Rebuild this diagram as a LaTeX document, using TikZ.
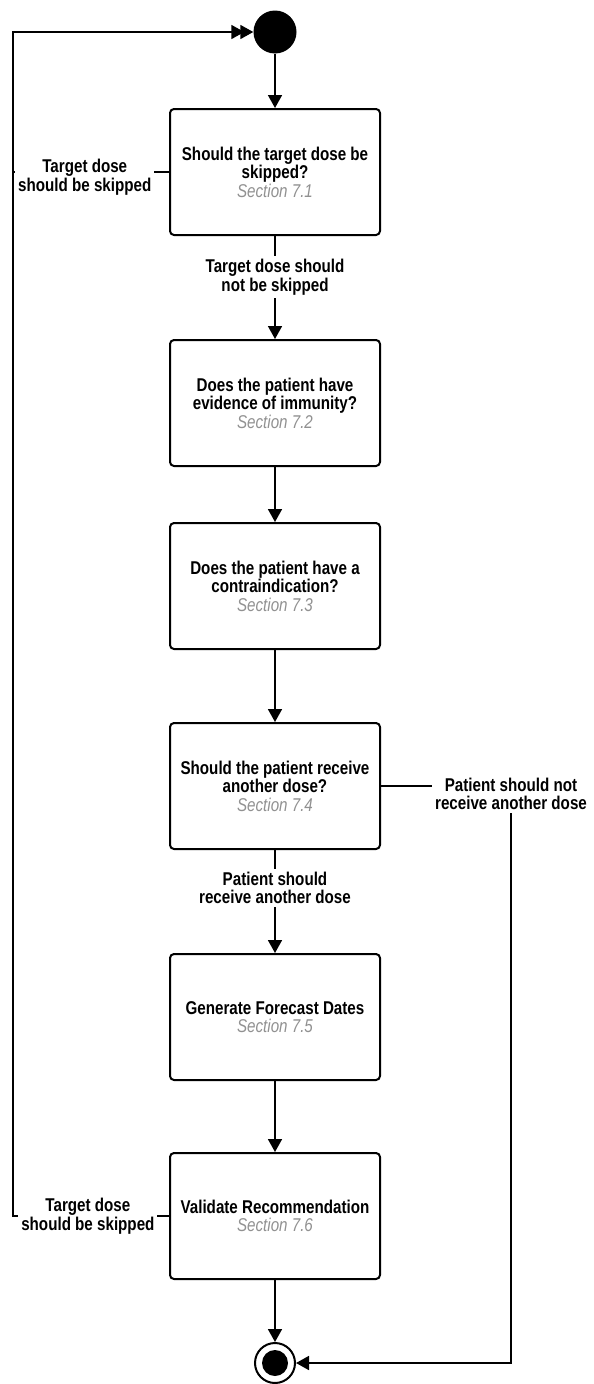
\documentclass[tikz,border=0pt]{standalone}
\usepackage{fontspec}
\setmainfont{Liberation Sans}[FakeStretch=0.82]
\usetikzlibrary{arrows.meta,positioning}
\definecolor{secgray}{RGB}{145,145,145}
\newcommand{\secnote}[1]{{\mdseries\itshape\color{secgray}Section #1}}

\begin{document}
\begin{tikzpicture}[x=1pt,y=-1pt,
  stepbox/.style={draw,line width=2pt,rounded corners=4pt,minimum width=210pt,minimum height=126pt,
    align=center,fill=white,font=\fontsize{18.5}{18.5}\selectfont\bfseries},
  lbl/.style={fill=white,align=center,inner sep=3pt,font=\fontsize{18.5}{18.5}\selectfont\bfseries},
  flow/.style={line width=1.7pt,-{Triangle[width=14pt,length=13pt]}},
  wire/.style={line width=1.7pt}]
\useasboundingbox (0,0) rectangle (594,1384);

% start and end states
\node[circle,fill,inner sep=0pt,minimum size=43pt] (start) at (275,32) {};
\node[circle,draw,line width=2pt,inner sep=0pt,minimum size=40pt] (stop) at (275,1363) {};
\node[circle,fill,inner sep=0pt,minimum size=26pt] (stopdot) at (stop) {};

% steps
\node[stepbox] (skip) at (275,172) {Should the target dose be\\skipped?\\\secnote{7.1}};
\node[stepbox] (immune) at (275,403) {Does the patient have\\evidence of immunity?\\\secnote{7.2}};
\node[stepbox] (contra) at (275,586) {Does the patient have a\\contraindication?\\\secnote{7.3}};
\node[stepbox] (another) at (275,786) {Should the patient receive\\another dose?\\\secnote{7.4}};
\node[stepbox] (forecast) at (275,1017) {Generate Forecast Dates\\\secnote{7.5}};
\node[stepbox] (validate) at (275,1216) {Validate Recommendation\\\secnote{7.6}};

\coordinate (rail) at (13,32);

% main flow
\draw[flow] (start) -- (skip);
\draw[flow] (skip) -- node[lbl,pos=0.4] {Target dose should\\not be skipped} (immune);
\draw[flow] (immune) -- (contra);
\draw[flow] (contra) -- (another);
\draw[flow] (another) -- node[lbl,pos=0.37] {Patient should\\receive another dose} (forecast);
\draw[flow] (forecast) -- (validate);
\draw[flow] (validate) -- (stop);

% skip loops back to start
\draw[flow,shorten >=9pt] (skip.west) -- node[lbl,pos=0.54,yshift=-5pt] {Target dose\\should be skipped}
  (skip.west -| rail) -- (rail) -- (start.west);
\draw[flow] (validate.west) -- node[lbl,pos=0.52] {Target dose\\should be skipped}
  (validate.west -| rail) -- (rail) -- (start.west);

% no more doses
\node[lbl] (nomore) at (511,794) {Patient should not\\receive another dose};
\draw[wire] (another.east) -- (another.east -| nomore.west);
\draw[flow] (nomore.south) |- (stop.east);
\end{tikzpicture}
\end{document}
